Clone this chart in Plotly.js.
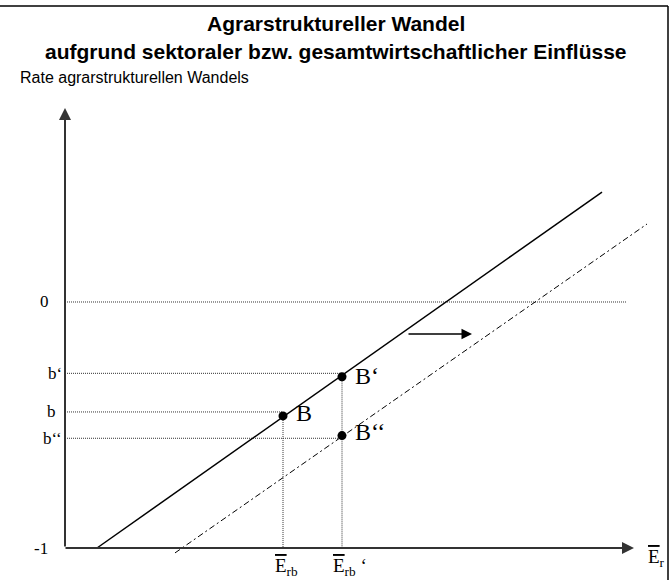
<!DOCTYPE html>
<html>
<head>
<meta charset="utf-8">
<script src="https://cdn.plot.ly/plotly-3.0.1.min.js"></script>
<style>html,body{margin:0;padding:0;background:#fff}</style>
</head>
<body>
<div id="chart" style="width:671px;height:580px"></div>
<script>
// ---- data ----
const titleLines = ['Agrarstruktureller Wandel', 'aufgrund sektoraler bzw. gesamtwirtschaftlicher Einflüsse'];
const yAxisTitle = 'Rate agrarstrukturellen Wandels';

// original curve (solid) and shifted curve (dash-dot)
const solidX = [0.32, 5.37];
const solidY = [-1.0, 0.447];
const shiftedX = [1.10, 5.82];
const shiftedY = [-1.020, 0.317];

// equilibrium points
const pointNames = ['B', 'B‘', 'B‘‘'];
const pointX = [2.18, 2.77, 2.77];
const pointY = [-0.463, -0.304, -0.543];

// levels on the vertical axis
const levelNames = ['0', 'b‘', 'b', 'b‘‘', '-1'];
const levelY = [0, -0.290, -0.447, -0.554, -1.0];
const levelEnd = [5.62, 2.77, 2.18, 2.77, null];

// marked values on the horizontal axis
const xMarkX = [2.18, 2.77];
const xMarkTop = [-0.447, -0.290];
const xMarkNames = ['E', 'E'];
const xMarkSuffix = ['', ' ‘'];

// axes extents
const axisOrigin = [0, -1.0];
const yAxisTop = 0.789;
const xAxisEnd = 5.69;

// shift arrow
const shiftArrowX = [3.42, 4.07];
const shiftArrowY = -0.130;

// ---- drawing ----
const serif = 'Liberation Serif, Times New Roman, serif';
const sans = 'Liberation Sans, Arial, sans-serif';
const traces = [];
const dotLine = {color: '#333', width: 1, dash: '1px,1px'};

// horizontal dotted level lines
levelY.forEach((y, i) => {
  if (levelEnd[i] === null) return;
  traces.push({x: [axisOrigin[0], levelEnd[i]], y: [y, y], mode: 'lines', line: dotLine, hoverinfo: 'skip'});
});
// vertical dotted lines
xMarkX.forEach((x, i) => {
  traces.push({x: [x, x], y: [xMarkTop[i], axisOrigin[1]], mode: 'lines', line: dotLine, hoverinfo: 'skip'});
});
traces.push({x: solidX, y: solidY, mode: 'lines', line: {color: '#000', width: 1.5}, hoverinfo: 'skip'});
traces.push({x: shiftedX, y: shiftedY, mode: 'lines', line: {color: '#000', width: 1, dash: '6px,3px,2px,3px'}, hoverinfo: 'skip'});
traces.push({x: pointX, y: pointY, mode: 'markers', marker: {color: '#000', size: 9}, hoverinfo: 'skip'});

const annotations = [];
// axes with arrows
annotations.push({x: axisOrigin[0], y: yAxisTop, ax: axisOrigin[0], ay: axisOrigin[1], xref: 'x', yref: 'y', axref: 'x', ayref: 'y',
  text: '', showarrow: true, arrowhead: 2, arrowsize: 1.2, arrowwidth: 2, arrowcolor: '#333', standoff: 0, startstandoff: 0});
annotations.push({x: xAxisEnd, y: axisOrigin[1], ax: axisOrigin[0] - 0.01, ay: axisOrigin[1], xref: 'x', yref: 'y', axref: 'x', ayref: 'y',
  text: '', showarrow: true, arrowhead: 2, arrowsize: 1.2, arrowwidth: 2, arrowcolor: '#333', standoff: 0, startstandoff: 0});
// shift arrow
annotations.push({x: shiftArrowX[1], y: shiftArrowY, ax: shiftArrowX[0], ay: shiftArrowY, xref: 'x', yref: 'y', axref: 'x', ayref: 'y',
  text: '', showarrow: true, arrowhead: 2, arrowsize: 1.4, arrowwidth: 1.5, arrowcolor: '#000', standoff: 0});

// level labels
const levelLabelX = [-0.205, -0.105, -0.14, -0.125, -0.245];
levelNames.forEach((t, i) => {
  annotations.push({x: levelLabelX[i], y: levelY[i], xref: 'x', yref: 'y', text: t, showarrow: false,
    xanchor: 'center', yanchor: 'middle', font: {family: serif, size: 17, color: '#000'}});
});
// point labels
const pointLabelDY = [0.012, 0.004, 0.015];
pointNames.forEach((t, i) => {
  annotations.push({x: pointX[i] + 0.11, y: pointY[i] + pointLabelDY[i], xref: 'x', yref: 'y', text: t, showarrow: false,
    xanchor: 'left', yanchor: 'middle', font: {family: serif, size: 24, color: '#000'}});
});
// x-axis mark labels
xMarkX.forEach((x, i) => {
  annotations.push({x: x + (i === 1 ? 0.08 : 0.03), y: -1.078, xref: 'x', yref: 'y',
    text: "<span style='text-decoration:overline'>" + xMarkNames[i] + "</span><sub>rb</sub>" + xMarkSuffix[i],
    showarrow: false, xanchor: 'center', yanchor: 'middle', font: {family: serif, size: 19, color: '#000'}});
});
annotations.push({x: xAxisEnd + 0.22, y: -1.04, xref: 'x', yref: 'y',
  text: "<span style='text-decoration:overline'>E</span><sub>r</sub>", showarrow: false, xanchor: 'center', yanchor: 'middle',
  font: {family: serif, size: 19, color: '#000'}});

// titles
annotations.push({x: 0.5, y: 1 - 24 / 580, xref: 'paper', yref: 'paper', text: '<b>' + titleLines[0] + '</b>', showarrow: false,
  xanchor: 'center', yanchor: 'middle', font: {family: sans, size: 21, color: '#000'}});
annotations.push({x: 0.5, y: 1 - 51 / 580, xref: 'paper', yref: 'paper', text: '<b>' + titleLines[1] + '</b>', showarrow: false,
  xanchor: 'center', yanchor: 'middle', font: {family: sans, size: 21, color: '#000'}});
annotations.push({x: 18 / 671, y: 1 - 78 / 580, xref: 'paper', yref: 'paper', text: yAxisTitle, showarrow: false,
  xanchor: 'left', yanchor: 'middle', font: {family: sans, size: 16, color: '#000'}});

const layout = {
  width: 671, height: 580,
  margin: {l: 0, r: 0, t: 0, b: 0},
  paper_bgcolor: '#fff', plot_bgcolor: '#fff',
  showlegend: false,
  xaxis: {range: [-0.65, 6.06], visible: false, fixedrange: true},
  yaxis: {range: [-1.1301, 1.2276], visible: false, fixedrange: true},
  annotations: annotations,
  shapes: [
    {type: 'line', xref: 'paper', yref: 'paper', x0: 0, x1: 668 / 671, y0: 1 - 6 / 580, y1: 1 - 6 / 580, line: {color: '#000', width: 1.5}},
    {type: 'line', xref: 'paper', yref: 'paper', x0: 668 / 671, x1: 668 / 671, y0: 1 - 6 / 580, y1: 0, line: {color: '#000', width: 1.5}}
  ]
};
Plotly.newPlot('chart', traces, layout, {displayModeBar: false, staticPlot: true});
</script>
</body>
</html>
